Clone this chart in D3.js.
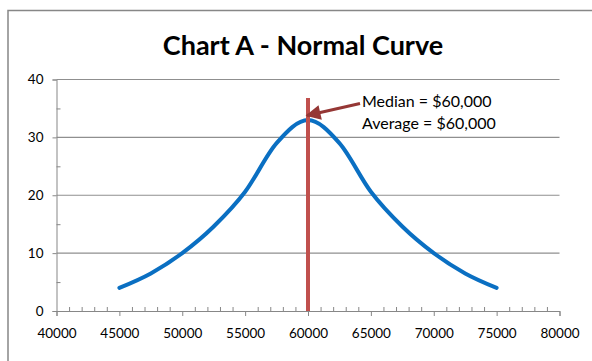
<!DOCTYPE html>
<html><head><meta charset="utf-8">
<script src="https://cdn.jsdelivr.net/npm/d3@7"></script>
<style>body{margin:0;background:#fff}svg{display:block}</style>
</head><body>
<script>
const incomes = [45000,47500,50000,52500,55000,57500,60000,62500,65000,67500,70000,72500,75000];
const counts  = [4,6.5,10,14.6,20.6,29,33,29,20.6,14.6,10,6.5,4];
const xTicks = [40000,45000,50000,55000,60000,65000,70000,75000,80000];
const yTicks = [0,10,20,30,40];
const medianValue = 60000;
const markerTop = 36.8;
const title = "Chart A - Normal Curve";
const noteLines = ["Median = $60,000","Average = $60,000"];

const W=592,H=361;
const svg=d3.select("body").append("svg").attr("width",W).attr("height",H);
const font="Lato, 'Open Sans', sans-serif";
svg.append("rect").attr("x",8).attr("y",10.5).attr("width",620).attr("height",400)
  .attr("fill","#fff").attr("stroke","#878787").attr("stroke-width",1.5);

const x=d3.scaleLinear().domain([40000,80000]).range([56.5,559.5]);
const y=d3.scaleLinear().domain([0,40]).range([311,79.5]);

svg.append("text").attr("x",303).attr("y",55).attr("text-anchor","middle")
  .attr("font-family",font).attr("font-weight","bold").attr("font-size",27).attr("fill","#000").text(title);

// gridlines
svg.append("g").selectAll("line").data(yTicks.filter(d=>d>0)).join("line")
  .attr("x1",x(40000)).attr("x2",x(80000)).attr("y1",d=>y(d)).attr("y2",d=>y(d))
  .attr("stroke","#8f8f8f").attr("stroke-width",1.2);

// y axis
const ya=svg.append("g").attr("transform",`translate(${x(40000)},0)`)
  .call(d3.axisLeft(y).tickValues(yTicks).tickSize(4).tickPadding(9));
ya.select(".domain").attr("stroke","#878787");
ya.selectAll(".tick line").attr("stroke","#878787");
ya.selectAll("text").attr("font-family",font).attr("font-size",13.5).attr("fill","#000");
svg.append("g").attr("transform",`translate(${x(40000)},0)`)
  .call(d3.axisRight(y).tickValues(d3.range(5,40,10)).tickSize(4).tickFormat(""))
  .call(g=>{g.select(".domain").remove();g.selectAll("line").attr("stroke","#878787");});

// x axis
const xa=svg.append("g").attr("transform",`translate(0,${y(0)})`)
  .call(d3.axisBottom(x).tickValues(xTicks).tickFormat(d3.format("d")).tickSize(5).tickPadding(12));
xa.select(".domain").attr("stroke","#878787");
xa.selectAll(".tick line").attr("stroke","#878787");
xa.selectAll("text").attr("font-family",font).attr("font-size",13.5).attr("fill","#000");
svg.append("g").attr("transform",`translate(0,${y(0)})`)
  .call(d3.axisTop(x).tickValues(d3.range(40000,80001,1000).filter(d=>d%5000)).tickSize(4).tickFormat(""))
  .call(g=>{g.select(".domain").remove();g.selectAll("line").attr("stroke","#878787");});

// curve
const line=d3.line().x((d,i)=>x(incomes[i])).y(d=>y(d)).curve(d3.curveCardinal.tension(0));
svg.append("path").attr("d",line(counts)).attr("fill","none").attr("stroke","#0a6fc2")
  .attr("stroke-width",4).attr("stroke-linecap","round");

// median marker
svg.append("line").attr("x1",x(medianValue)).attr("x2",x(medianValue)).attr("y1",y(0)).attr("y2",y(markerTop))
  .attr("stroke","#c0504d").attr("stroke-width",4);

// arrow
svg.append("defs").append("marker").attr("id","ah").attr("viewBox","0 0 10 10").attr("refX",9).attr("refY",5)
  .attr("markerWidth",5.5).attr("markerHeight",5).attr("markerUnits","strokeWidth").attr("orient","auto")
  .append("path").attr("d","M0,0L10,5L0,10z").attr("fill","#953735");
svg.append("line").attr("x1",360).attr("y1",103.5).attr("x2",307).attr("y2",115.5)
  .attr("stroke","#953735").attr("stroke-width",3).attr("marker-end","url(#ah)");

svg.append("g").selectAll("text").data(noteLines).join("text")
  .attr("x",362).attr("y",(d,i)=>107+i*21.5).attr("font-family",font).attr("font-size",16).attr("fill","#000")
  .text(d=>d);
</script>
</body></html>
